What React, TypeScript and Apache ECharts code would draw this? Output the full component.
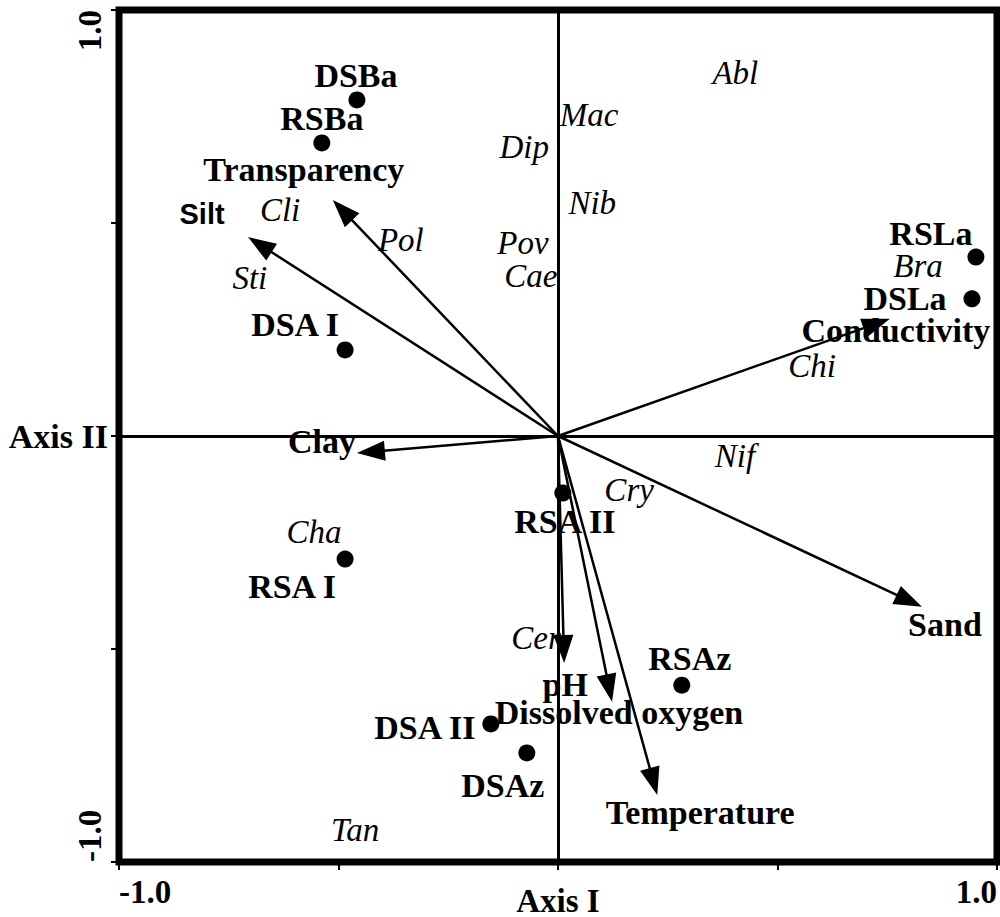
import React, { useEffect, useRef } from "react";
import * as echarts from "echarts";

// ---- Data ----
const axisTickLabels = ["-1.0", "1.0"];
const axisNames = ["Axis I", "Axis II"];

const siteNames = ["DSBa", "RSBa", "RSLa", "DSLa", "DSA I", "RSA I", "RSA II", "RSAz", "DSA II", "DSAz"];
const siteX = [-0.458, -0.538, 0.952, 0.943, -0.485, -0.485, 0.011, 0.282, -0.153, -0.071];
const siteY = [0.789, 0.688, 0.42, 0.322, 0.202, -0.289, -0.134, -0.585, -0.676, -0.744];

const speciesNames = ["Abl", "Mac", "Dip", "Nib", "Pov", "Cae", "Cli", "Pol", "Sti", "Bra", "Chi", "Nif", "Cry", "Cha", "Cer", "Tan"];
const speciesX = [0.404, 0.071, -0.077, 0.078, -0.08, -0.062, -0.633, -0.358, -0.702, 0.82, 0.579, 0.403, 0.162, -0.556, -0.05, -0.462];
const speciesY = [0.852, 0.753, 0.678, 0.547, 0.453, 0.376, 0.531, 0.46, 0.371, 0.399, 0.164, -0.047, -0.127, -0.225, -0.474, -0.925];

const envNames = ["Silt", "Transparency", "Conductivity", "Clay", "Sand", "pH", "Dissolved oxygen", "Temperature"];
const envX = [-0.706, -0.513, 0.756, -0.458, 0.829, 0.014, 0.123, 0.226];
const envY = [0.467, 0.554, 0.275, -0.04, -0.401, -0.533, -0.624, -0.843];

// ---- Layout (label offsets in px, relative to point) ----
const siteLabelOffset: Record<string, [number, number]> = {
  DSBa: [-1, -24],
  RSBa: [0, -24],
  RSLa: [-45, -24],
  DSLa: [-67, 0],
  "DSA I": [-50, -25],
  "RSA I": [-53, 27],
  "RSA II": [2, 28],
  RSAz: [8, -27],
  "DSA II": [-66, 4],
  DSAz: [-24, 33],
};
const envLabelOffset: Record<string, [number, number]> = {
  Silt: [-46, -23],
  Transparency: [-29, -30],
  Conductivity: [6, 12],
  Clay: [-35, -12],
  Sand: [23, 18],
  pH: [1, 21],
  "Dissolved oxygen": [7, 11],
  Temperature: [43, 17],
};

const SERIF = "'Liberation Serif', 'Times New Roman', serif";
const SANS = "'Liberation Sans', Arial, sans-serif";

function tickFormatter(v: number) {
  if (Math.abs(v + 1) < 1e-9) return axisTickLabels[0];
  if (Math.abs(v - 1) < 1e-9) return axisTickLabels[1];
  return "";
}

export default function App() {
  const ref = useRef<HTMLDivElement>(null);

  useEffect(() => {
    if (!ref.current) return;
    const chart = echarts.init(ref.current, undefined, { renderer: "svg" });

    const boldLabel = {
      fontFamily: SERIF,
      fontWeight: "bold" as const,
      fontSize: 34,
      color: "#000",
    };

    const option: any = {
      animation: false,
      backgroundColor: "#fff",
      grid: {
        left: 119,
        right: 3,
        top: 10,
        bottom: 55,
        outerBoundsMode: "none",
        containLabel: false,
        show: true,
        borderWidth: 7,
        borderColor: "#000",
        backgroundColor: "#fff",
      },
      xAxis: {
        type: "value",
        min: -1,
        max: 1,
        interval: 0.5,
        name: axisNames[0],
        nameLocation: "middle",
        nameGap: 22,
        nameMoveOverlap: false,
        nameTextStyle: { ...boldLabel, fontSize: 33 },
        axisLine: { show: false, onZero: false },
        axisTick: { show: true, length: 8, lineStyle: { color: "#000", width: 2 } },
        splitLine: { show: false },
        axisLabel: {
          formatter: tickFormatter,
          margin: 13,
          alignMinLabel: "left",
          alignMaxLabel: "right",
          showMinLabel: true,
          showMaxLabel: true,
          ...boldLabel,
          fontSize: 33,
        },
      },
      yAxis: {
        type: "value",
        min: -1,
        max: 1,
        interval: 0.5,
        name: axisNames[1],
        nameLocation: "middle",
        nameRotate: 0,
        nameGap: 11,
        nameMoveOverlap: false,
        nameTextStyle: { ...boldLabel },
        axisLine: { show: false, onZero: false },
        axisTick: { show: true, length: 8, lineStyle: { color: "#000", width: 2 } },
        splitLine: { show: false },
        axisLabel: {
          formatter: tickFormatter,
          rotate: 90,
          margin: 13,
          alignMinLabel: "left",
          alignMaxLabel: "right",
          showMinLabel: true,
          showMaxLabel: true,
          ...boldLabel,
          fontSize: 33,
        },
      },
      series: [
        {
          name: "species",
          type: "scatter",
          z: 2,
          symbol: "circle",
          symbolSize: 1,
          itemStyle: { color: "rgba(0,0,0,0)", opacity: 1 },
          silent: true,
          data: speciesNames.map((n, i) => ({ name: n, value: [speciesX[i], speciesY[i]] })),
          label: {
            show: true,
            position: "inside",
            formatter: "{b}",
            fontFamily: SERIF,
            fontStyle: "italic",
            fontSize: 33,
            color: "#000",
            opacity: 1,
          },
          markLine: {
            silent: true,
            symbol: "none",
            label: { show: false },
            lineStyle: { color: "#000", width: 3, type: "solid", opacity: 1 },
            data: [{ xAxis: 0 }, { yAxis: 0 }],
          },
        },
        {
          name: "sites",
          type: "scatter",
          z: 3,
          symbol: "circle",
          symbolSize: 17,
          itemStyle: { color: "#000", opacity: 1 },
          silent: true,
          data: siteNames.map((n, i) => ({
            name: n,
            value: [siteX[i], siteY[i]],
            label: { offset: siteLabelOffset[n] },
          })),
          label: {
            show: true,
            position: "inside",
            formatter: "{b}",
            opacity: 1,
            ...boldLabel,
          },
        },
        {
          name: "envLabels",
          type: "scatter",
          z: 3,
          symbol: "circle",
          symbolSize: 1,
          itemStyle: { color: "rgba(0,0,0,0)", opacity: 1 },
          silent: true,
          data: envNames.map((n, i) => ({
            name: n,
            value: [envX[i], envY[i]],
            label:
              n === "Silt"
                ? { offset: envLabelOffset[n], fontFamily: SANS, fontSize: 29 }
                : { offset: envLabelOffset[n] },
          })),
          label: {
            show: true,
            position: "inside",
            formatter: "{b}",
            opacity: 1,
            ...boldLabel,
          },
        },
        {
          name: "envArrows",
          type: "custom",
          coordinateSystem: "cartesian2d",
          z: 6,
          silent: true,
          data: envNames.map((n, i) => [envX[i], envY[i]]),
          renderItem: (params: any, api: any) => {
            const tip = api.coord([api.value(0), api.value(1)]);
            const o = api.coord([0, 0]);
            const dx = tip[0] - o[0];
            const dy = tip[1] - o[1];
            const len = Math.hypot(dx, dy);
            const ux = dx / len;
            const uy = dy / len;
            const L = 28;
            const W = 10;
            const bx = tip[0] - ux * L;
            const by = tip[1] - uy * L;
            const px = -uy;
            const py = ux;
            return {
              type: "group",
              children: [
                {
                  type: "line",
                  shape: { x1: o[0], y1: o[1], x2: bx + ux * 4, y2: by + uy * 4 },
                  style: { stroke: "#000", lineWidth: 2.5 },
                },
                {
                  type: "polygon",
                  shape: {
                    points: [
                      [tip[0], tip[1]],
                      [bx + px * W, by + py * W],
                      [bx - px * W, by - py * W],
                    ],
                  },
                  style: { fill: "#000", stroke: "none" },
                },
              ],
            };
          },
        },
      ],
    };

    chart.setOption(option);
    return () => {
      chart.dispose();
    };
  }, []);

  return (
    <div
      ref={ref}
      style={{ position: "fixed", left: 0, top: 0, width: 1000, height: 917, background: "#fff" }}
    />
  );
}
